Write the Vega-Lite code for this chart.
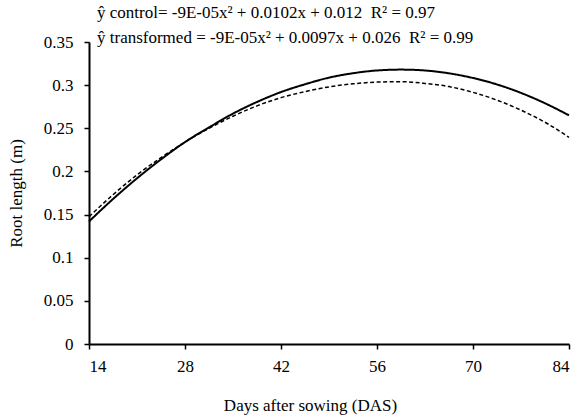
{
  "$schema": "https://vega.github.io/schema/vega-lite/v6.json",
  "width": 480,
  "height": 302,
  "autosize": {"type": "none"},
  "padding": {"left": 89, "top": 42, "right": 10, "bottom": 73},
  "background": "white",
  "config": {
    "view": {"stroke": null},
    "font": "Liberation Serif",
    "axis": {"grid": false, "domainColor": "black", "domainWidth": 2, "tickColor": "black", "tickWidth": 1.5, "tickSize": 5, "labelColor": "black", "titleColor": "black", "labelFont": "Liberation Serif", "titleFont": "Liberation Serif", "labelFontSize": 17, "titleFontSize": 17, "titleFontWeight": "normal"}
  },
  "title": {
    "text": ["ŷ control= -9E-05x² + 0.0102x + 0.012\u00a0\u00a0R² = 0.97", "ŷ transformed = -9E-05x² + 0.0097x + 0.026\u00a0\u00a0R² = 0.99"],
    "anchor": "start",
    "frame": "group",
    "orient": "top",
    "offset": -14,
    "dx": 8,
    "font": "Liberation Serif",
    "fontSize": 17,
    "fontWeight": "normal",
    "color": "black",
    "lineHeight": 25
  },
  "data": {"values": [
    {"day": 14, "length": 0.142, "series": "control"},
    {"day": 17.5, "length": 0.168, "series": "control"},
    {"day": 21, "length": 0.192, "series": "control"},
    {"day": 24.5, "length": 0.214, "series": "control"},
    {"day": 28, "length": 0.234, "series": "control"},
    {"day": 31.5, "length": 0.251, "series": "control"},
    {"day": 35, "length": 0.267, "series": "control"},
    {"day": 38.5, "length": 0.2805, "series": "control"},
    {"day": 42, "length": 0.292, "series": "control"},
    {"day": 45.5, "length": 0.301, "series": "control"},
    {"day": 49, "length": 0.3087, "series": "control"},
    {"day": 52.5, "length": 0.3138, "series": "control"},
    {"day": 56, "length": 0.317, "series": "control"},
    {"day": 59.5, "length": 0.318, "series": "control"},
    {"day": 63, "length": 0.317, "series": "control"},
    {"day": 66.5, "length": 0.3137, "series": "control"},
    {"day": 70, "length": 0.3083, "series": "control"},
    {"day": 73.5, "length": 0.3008, "series": "control"},
    {"day": 77, "length": 0.291, "series": "control"},
    {"day": 80.5, "length": 0.279, "series": "control"},
    {"day": 84, "length": 0.265, "series": "control"},
    {"day": 14, "length": 0.1475, "series": "transformed"},
    {"day": 17.5, "length": 0.173, "series": "transformed"},
    {"day": 21, "length": 0.196, "series": "transformed"},
    {"day": 24.5, "length": 0.216, "series": "transformed"},
    {"day": 28, "length": 0.234, "series": "transformed"},
    {"day": 31.5, "length": 0.25, "series": "transformed"},
    {"day": 35, "length": 0.264, "series": "transformed"},
    {"day": 38.5, "length": 0.276, "series": "transformed"},
    {"day": 42, "length": 0.2855, "series": "transformed"},
    {"day": 45.5, "length": 0.2925, "series": "transformed"},
    {"day": 49, "length": 0.298, "series": "transformed"},
    {"day": 52.5, "length": 0.3015, "series": "transformed"},
    {"day": 56, "length": 0.3035, "series": "transformed"},
    {"day": 59.5, "length": 0.304, "series": "transformed"},
    {"day": 63, "length": 0.302, "series": "transformed"},
    {"day": 66.5, "length": 0.2983, "series": "transformed"},
    {"day": 70, "length": 0.2917, "series": "transformed"},
    {"day": 73.5, "length": 0.2826, "series": "transformed"},
    {"day": 77, "length": 0.271, "series": "transformed"},
    {"day": 80.5, "length": 0.257, "series": "transformed"},
    {"day": 84, "length": 0.2395, "series": "transformed"}
  ]},
  "mark": {"type": "line", "interpolate": "monotone", "color": "black"},
  "encoding": {
    "x": {"field": "day", "type": "quantitative", "scale": {"domain": [14, 84], "nice": false, "zero": false},
      "axis": {"values": [14, 28, 42, 56, 70, 84], "title": "Days after sowing (DAS)", "labelPadding": 9, "titleX": 221, "titleY": 66, "titleBaseline": "alphabetic", "titleAnchor": "start", "titleAlign": "center"}},
    "y": {"field": "length", "type": "quantitative", "scale": {"domain": [0, 0.35], "nice": false},
      "axis": {"values": [0, 0.05, 0.1, 0.15, 0.2, 0.25, 0.3, 0.35], "format": "~r", "title": "Root length (m)", "labelPadding": 11, "titlePadding": 18}},
    "strokeDash": {"field": "series", "type": "nominal", "scale": {"domain": ["control", "transformed"], "range": [[1, 0], [4, 2.5]]}, "legend": null},
    "strokeWidth": {"field": "series", "type": "nominal", "scale": {"domain": ["control", "transformed"], "range": [2, 1.5]}, "legend": null}
  }
}
